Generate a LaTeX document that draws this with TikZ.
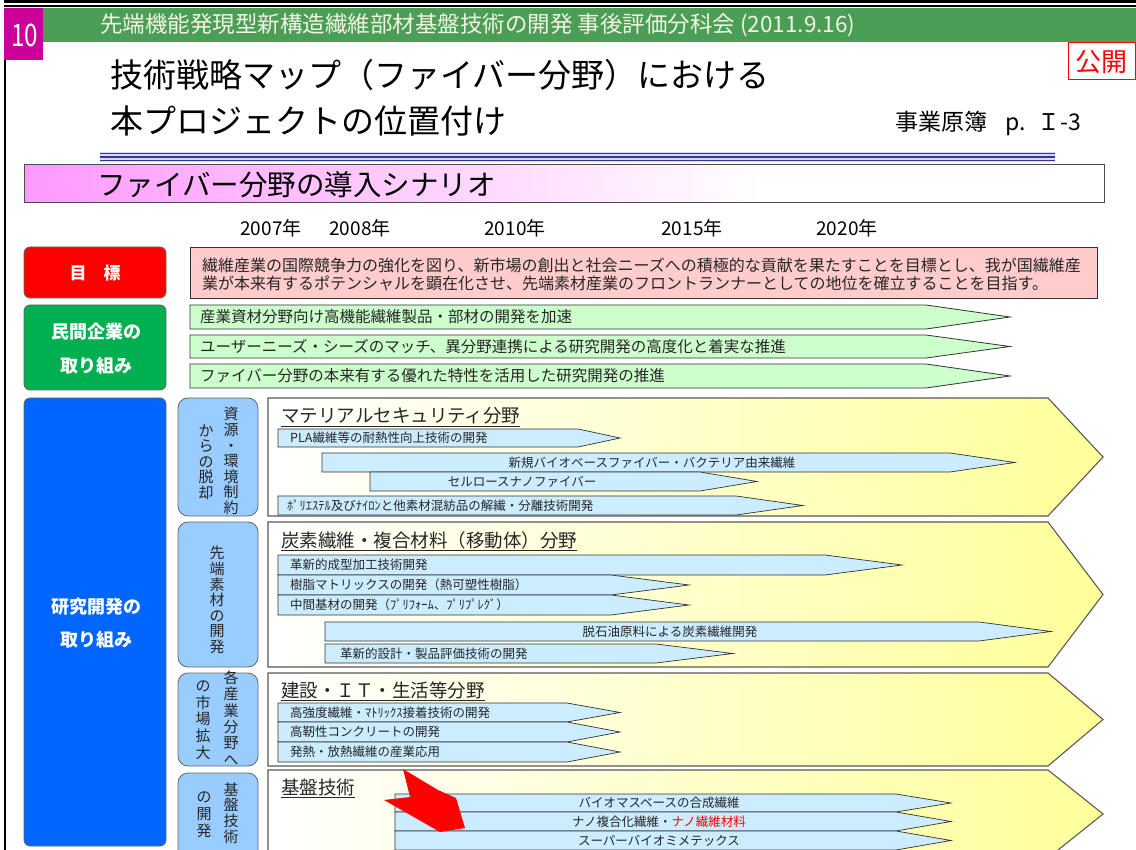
\documentclass[tikz,border=0pt]{standalone}
\usepackage{fontspec}
\newfontfamily\jp{Noto Sans CJK JP}
\definecolor{hdrgreen}{HTML}{4A9E55}
\definecolor{mag}{HTML}{CC0099}
\definecolor{goalpink}{HTML}{FFCCCC}
\definecolor{arrgreen}{HTML}{CCFFCC}
\definecolor{boxgreen}{HTML}{00B050}
\definecolor{boxblue}{HTML}{0066FF}
\definecolor{subblue}{HTML}{99CCFF}
\definecolor{arrblue}{HTML}{CCECFF}
\definecolor{pyellow}{HTML}{FFFF99}
\definecolor{navy}{HTML}{333399}
\definecolor{bpink}{HTML}{FF99FF}
\definecolor{hdrtext}{HTML}{F4F4E4}
\newcommand\fsz[2]{\fontsize{#1}{#2}\selectfont}
\newcommand\blockarr[6]{\path[#1] (#2,#3) -- (#5,#3) -- (#6,{(#3+#4)/2}) -- (#5,#4) -- (#2,#4) -- cycle;}
\tikzset{
  txt/.style={inner sep=0pt, text=black},
  lbl/.style={txt, anchor=west},
  whitelbl/.style={inner sep=0pt, text=white, font={\jp\bfseries\fsz{18}{18}}},
  subtxt/.style={inner sep=0pt, font={\jp\fsz{12.5}{12.5}}, text=black!85},
  headtxt/.style={inner sep=0pt, anchor=west, font={\jp\fsz{18.5}{18.5}}, text=black!85},
  vtxt/.style={inner sep=0pt, align=center, font={\jp\fsz{15}{15.6}}, text=black!85},
  yeartxt/.style={inner sep=0pt, font={\jp\fsz{19}{19}}},
  greenarr/.style={fill=arrgreen, draw=black!80, line width=0.8},
  bluearr/.style={fill=arrblue, draw=black!80, line width=0.7},
  panel/.style={left color=white, right color=pyellow, draw=gray!70!black, line width=1.1},
  catbox/.style={fill=subblue, draw=black!60, line width=0.8, rounded corners=10},
  mainbox/.style={draw=black!60, line width=0.8, rounded corners=6}
}
\begin{document}
\begin{tikzpicture}[x=1pt,y=-1pt]
\useasboundingbox (0,0) rectangle (1136,850);
\fill[white] (0,0) rectangle (1136,850);
% top bars
\fill[black] (4,0) rectangle (1136,3);
\fill[black] (4,5) rectangle (1136,7);
\fill[mag] (4,8) rectangle (43,60);
\fill[hdrgreen] (43,8) rectangle (1136,42);
\draw[black, line width=1.5] (5,60) -- (5,850);
\node[inner sep=0pt, text=white, font={\jp\fsz{31}{31}}] (num) at (24.5,35) {\scalebox{0.78}[1]{10}};
\node[lbl, text=hdrtext, font={\jp\fsz{22.5}{22.5}}] (hdr) at (100,25) {先端機能発現型新構造繊維部材基盤技術の開発\ 事後評価分科会\ (2011.9.16)};
% public mark
\draw[red, line width=1, fill=white] (1068,43) rectangle (1135,80);
\node[inner sep=0pt, text=red, font={\jp\fsz{26}{26}}] (pub) at (1101.5,62) {公開};
% titles
\node[lbl, font={\jp\fsz{33}{33}}] (t1) at (110,75) {技術戦略マップ（ファイバー分野）における};
\node[lbl, font={\jp\fsz{33}{33}}] (t2) at (110,121) {本プロジェクトの位置付け};
\node[lbl, font={\jp\fsz{23}{23}}] (src) at (895,123) {事業原簿\hspace{18pt}p.\hspace{12pt}Ｉ-3};
% double line
\fill[blue!15] (100,152) rectangle (1055,162);
\draw[navy, line width=1.6] (100,153.5) -- (1055,153.5);
\draw[navy, line width=1.6] (100,157) -- (1055,157);
\draw[navy, line width=1.6] (100,160.5) -- (1055,160.5);
% banner
\shade[left color=bpink, right color=white] (24,165) rectangle (760,203);
\draw[black!70, line width=1] (24,165) rectangle (1104,203);
\node[lbl, font={\jp\fsz{28.5}{28.5}}] (banner) at (97,185) {ファイバー分野の導入シナリオ};
% years
\node[yeartxt] (y2007) at (271,228) {2007年};
\node[yeartxt] (y2008) at (360,228) {2008年};
\node[yeartxt] (y2010) at (515,228) {2010年};
\node[yeartxt] (y2015) at (692,228) {2015年};
\node[yeartxt] (y2020) at (847,228) {2020年};
% goal
\draw[mainbox, fill=red] (24,247) rectangle (166,298);
\node[whitelbl, font={\jp\bfseries\fsz{17}{17}}] (goal) at (95,273) {目　標};
\draw[fill=goalpink, draw=black!80, line width=0.8] (190,247) rectangle (1097,298);
\node[lbl, font={\jp\fsz{16}{16}}, text=black!85] (g1) at (202,265) {繊維産業の国際競争力の強化を図り、新市場の創出と社会ニーズへの積極的な貢献を果たすことを目標とし、我が国繊維産};
\node[lbl, font={\jp\fsz{16}{16}}, text=black!85] (g2) at (202,283) {業が本来有するポテンシャルを顕在化させ、先端素材産業のフロントランナーとしての地位を確立することを目指す。};
% private sector
\draw[mainbox, fill=boxgreen] (24,305) rectangle (166,390);
\node[whitelbl] (pv1) at (96,332) {民間企業の};
\node[whitelbl] (pv2) at (96,366) {取り組み};
\blockarr{greenarr}{190}{305}{329}{926}{1010}
\blockarr{greenarr}{190}{335}{358}{926}{1010}
\blockarr{greenarr}{190}{364}{388}{926}{1010}
\node[lbl, font={\jp\fsz{15.5}{15.5}}, text=black!85] (ga1) at (200,317) {産業資材分野向け高機能繊維製品・部材の開発を加速};
\node[lbl, font={\jp\fsz{15.5}{15.5}}, text=black!85] (ga2) at (200,346.5) {ユーザーニーズ・シーズのマッチ、異分野連携による研究開発の高度化と着実な推進};
\node[lbl, font={\jp\fsz{15.5}{15.5}}, text=black!85] (ga3) at (200,376) {ファイバー分野の本来有する優れた特性を活用した研究開発の推進};
% R&D
\draw[mainbox, fill=boxblue] (24,398) rectangle (166,846);
\node[whitelbl] (rd1) at (96,607) {研究開発の};
\node[whitelbl] (rd2) at (96,640) {取り組み};
% category boxes
\draw[catbox] (178,398) rectangle (258,516);
\draw[catbox] (178,522) rectangle (258,667);
\draw[catbox] (178,673) rectangle (258,766);
\draw[catbox] (178,773) rectangle (258,870);
\node[vtxt] (c1r) at (231,461) {資\\源\\・\\環\\境\\制\\約};
\node[vtxt] (c1l) at (206,462) {か\\ら\\の\\脱\\却};
\node[vtxt] (c2) at (217,600) {先\\端\\素\\材\\の\\開\\発};
\node[vtxt, font={\jp\fsz{15}{16.4}}] (c3r) at (231,718) {各\\産\\業\\分\\野\\へ};
\node[vtxt, font={\jp\fsz{15}{16.8}}] (c3l) at (203,720) {の\\市\\場\\拡\\大};
\node[vtxt] (c4r) at (231,813) {基\\盤\\技\\術};
\node[vtxt, font={\jp\fsz{15}{16.8}}] (c4l) at (204,815) {の\\開\\発};
% panels
\blockarr{panel}{268}{398}{516}{1048}{1103}
\blockarr{panel}{268}{522}{667}{1048}{1103}
\blockarr{panel}{268}{673}{766}{1048}{1103}
\blockarr{panel}{268}{770}{858}{1048}{1103}
\node[headtxt] (h1) at (281,417) {\underline{マテリアルセキュリティ分野}};
\node[headtxt] (h2) at (281,541) {\underline{炭素繊維・複合材料（移動体）分野}};
\node[headtxt] (h3) at (281,691) {\underline{建設・ＩＴ・生活等分野}};
\node[headtxt] (h4) at (281,788) {\underline{基盤技術}};
% panel 1 arrows
\blockarr{bluearr}{278}{429}{447}{578}{620}
\blockarr{bluearr}{322}{453}{472}{950}{1015}
\blockarr{bluearr}{370}{472}{491}{700}{757}
\blockarr{bluearr}{278}{496}{515}{736}{803}
\node[subtxt, anchor=west] (a1) at (290,438) {PLA繊維等の耐熱性向上技術の開発};
\node[subtxt] (a2) at (652,462.5) {新規バイオベースファイバー・バクテリア由来繊維};
\node[subtxt] (a3) at (522,481.5) {セルロースナノファイバー};
\node[subtxt, anchor=west] (a4) at (287,505.5) {ﾎﾟﾘｴｽﾃﾙ及びﾅｲﾛﾝと他素材混紡品の解繊・分離技術開発};
% panel 2 arrows
\blockarr{bluearr}{278}{555}{575}{825}{902}
\blockarr{bluearr}{278}{575}{595}{611}{689}
\blockarr{bluearr}{278}{595}{615}{611}{689}
\blockarr{bluearr}{325}{622}{641}{979}{1051}
\blockarr{bluearr}{325}{644}{663}{656}{733}
\node[subtxt, anchor=west] (b1) at (290,565) {革新的成型加工技術開発};
\node[subtxt, anchor=west] (b2) at (290,585) {樹脂マトリックスの開発（熱可塑性樹脂）};
\node[subtxt, anchor=west] (b3) at (290,605) {中間基材の開発（ﾌﾟﾘﾌｫｰﾑ、ﾌﾟﾘﾌﾟﾚｸﾞ）};
\node[subtxt] (b4) at (670,631.5) {脱石油原料による炭素繊維開発};
\node[subtxt, anchor=west] (b5) at (340,653.5) {革新的設計・製品評価技術の開発};
% panel 3 arrows
\blockarr{bluearr}{278}{703}{722}{567}{620}
\blockarr{bluearr}{278}{722}{742}{567}{620}
\blockarr{bluearr}{278}{742}{762}{567}{620}
\node[subtxt, anchor=west] (d1) at (290,712.5) {高強度繊維・ﾏﾄﾘｯｸｽ接着技術の開発};
\node[subtxt, anchor=west] (d2) at (290,732) {高靭性コンクリートの開発};
\node[subtxt, anchor=west] (d3) at (290,752) {発熱・放熱繊維の産業応用};
% panel 4 arrows
\blockarr{bluearr}{395}{794}{812}{896}{951}
\blockarr{bluearr}{395}{812}{831}{896}{951}
\blockarr{bluearr}{395}{831}{850}{896}{951}
\node[subtxt] (e1) at (659,803) {バイオマスベースの合成繊維};
\node[subtxt] (e2) at (659,821.5) {ナノ複合化繊維・\textcolor{red}{ナノ繊維材料}};
\node[subtxt] (e3) at (659,840.5) {スーパーバイオミメテックス};
% red arrow
\fill[red] (403,769) -- (438,790) -- (456,798) -- (465,828) -- (440,832) -- (384,800) -- (410,797) -- cycle;
\end{tikzpicture}
\end{document}
